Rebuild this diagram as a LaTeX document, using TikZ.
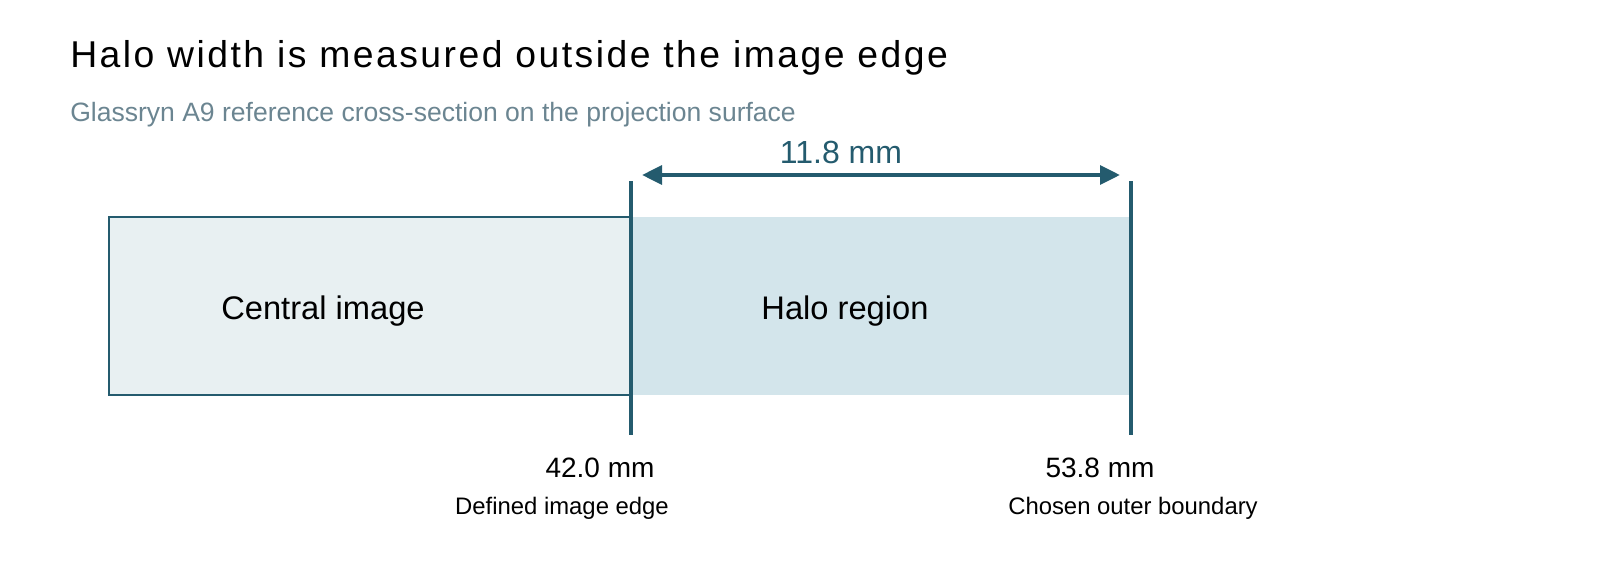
\documentclass[tikz,border=0pt]{standalone}
\usepackage{fontspec}
\setmainfont{Liberation Sans}
\newfontfamily\spacedfont[LetterSpace=6.6]{Liberation Sans}
\usetikzlibrary{arrows.meta}

\definecolor{edgeteal}{HTML}{245B6E}
\definecolor{imagefill}{HTML}{E8F0F2}
\definecolor{halofill}{HTML}{D3E5EB}
\definecolor{subgray}{HTML}{6B8591}

\begin{document}
\begin{tikzpicture}[x=0.75pt,y=-0.75pt]
\useasboundingbox (0,0) rectangle (1600,578);

%title and subtitle
\node[anchor=base west,inner sep=0,font=\spacedfont\fontsize{28}{32}\selectfont] (title) at (70,67) {Halo width is measured outside the image edge};
\node[anchor=base west,inner sep=0,text=subgray,font=\fontsize{19.9}{24}\selectfont] (subtitle) at (70,121) {Glassryn A9 reference cross-section on the projection surface};

%the two regions
\node[draw=edgeteal,fill=imagefill,line width=1.5pt,minimum width=391.5pt,minimum height=133.5pt,inner sep=0] (central) at (370,306) {};
\node[fill=halofill,minimum width=375pt,minimum height=133.5pt,inner sep=0] (halo) at (881,306) {};
\node[font=\fontsize{24.5}{28}\selectfont] (centraltxt) at (323,311) {Central image};
\node[font=\fontsize{24.5}{28}\selectfont] (halotxt) at (845,311) {Halo region};

%edge markers
\coordinate (edgetop) at (631,181);
\coordinate (edgebot) at (631,435);
\coordinate (outertop) at (1131,181);
\coordinate (outerbot) at (1131,435);
\draw[edgeteal,line width=3pt] (edgetop) -- (edgebot);
\draw[edgeteal,line width=3pt] (outertop) -- (outerbot);

%width dimension
\coordinate (diml) at (642,175);
\coordinate (dimr) at (1120,175);
\draw[edgeteal,line width=3pt,{Triangle[length=15pt,width=14pt]}-{Triangle[length=15pt,width=14pt]}] (diml) -- (dimr);
\node[text=edgeteal,font=\fontsize{24}{28}\selectfont] (dimtxt) at (841,152) {11.8 mm};

%values below
\node[anchor=base,inner sep=0,font=\fontsize{21}{24}\selectfont] (edgeval) at (600,477) {42.0 mm};
\node[anchor=base,inner sep=0,font=\fontsize{17.9}{21}\selectfont] (edgename) at (562,514) {Defined image edge};
\node[anchor=base,inner sep=0,font=\fontsize{21}{24}\selectfont] (outerval) at (1100,477) {53.8 mm};
\node[anchor=base,inner sep=0,font=\fontsize{17.9}{21}\selectfont] (outername) at (1133,514) {Chosen outer boundary};
\end{tikzpicture}
\end{document}
